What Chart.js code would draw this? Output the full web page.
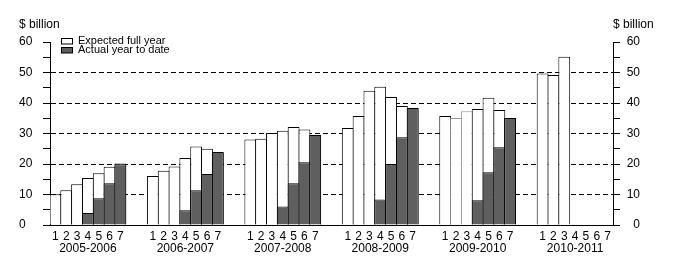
<!DOCTYPE html>
<html>
<head>
<meta charset="utf-8">
<script src="https://cdn.jsdelivr.net/npm/chart.js@4/dist/chart.umd.min.js"></script>
<style>
  html, body { margin: 0; padding: 0; background: #fff; }
  #wrap { width: 674px; height: 264px; position: relative; }
</style>
</head>
<body>
<div id="wrap"><canvas id="revenue"></canvas></div>
<script>
// chart data - one array per year, months 1..7 of reporting
var years = ['2005-2006', '2006-2007', '2007-2008', '2008-2009', '2009-2010', '2010-2011'];
var monthTicks = ['1', '2', '3', '4', '5', '6', '7'];

var expectedFullYear = [
    [10.1, 11.4, 13.4, 15.4, 17.0, 19.1, 20.2],
    [16.1, 17.8, 19.2, 22.0, 25.7, 25.0, 23.8],
    [28.0, 28.3, 30.2, 30.9, 32.1, 31.3, 29.4],
    [31.8, 35.7, 44.0, 45.3, 42.0, 39.0, 38.3],
    [35.7, 35.1, 37.3, 38.0, 41.7, 37.7, 35.0],
    [49.7, 49.2, 55.2, null, null, null, null]
];

var actualYearToDate = [
    [null, null, null, 3.9, 8.8, 13.7, 19.9],
    [null, null, null, 4.8, 11.4, 16.7, 23.9],
    [null, null, null, 6.1, 13.7, 20.6, 29.5],
    [null, null, null, 8.4, 20.0, 28.8, 38.4],
    [null, null, null, 8.1, 17.3, 25.5, 35.1],
    [null, null, null, null, null, null, null]
];

var yTicks = [0, 10, 20, 30, 40, 50, 60];

// build flat category slots: 7 bars then 2 empty slots per year
var labels = [], expData = [], actData = [], expBorder = [];
years.forEach(function (yr, g) {
    monthTicks.forEach(function (m, k) {
        labels.push(k == 3 ? [m, yr] : m);
        expData.push(expectedFullYear[g][k]);
        actData.push(actualYearToDate[g][k]);
        // 2009-2010 months 2 and 3 are outlined in grey
        expBorder.push(g == 4 && (k == 1 || k == 2) ? '#9a9a9a' : '#000');
    });
    if (g < years.length - 1) {
        labels.push(''); labels.push('');
        expData.push(null); expData.push(null);
        actData.push(null); actData.push(null);
        expBorder.push('#000'); expBorder.push('#000');
    }
});

var overlap = 1 + 1 / 10.85; // bars share one outline with their neighbour

var textFont = { family: 'Liberation Sans, Arial, sans-serif', size: 12 };

var yAxis = function (side, width) {
    return {
        type: 'linear',
        position: side,
        min: 0,
        max: 60,
        afterFit: function (scale) { scale.width = width; },
        ticks: {
            stepSize: 5,
            autoSkip: false,
            padding: 4,
            crossAlign: 'far',
            color: '#000',
            font: textFont,
            callback: function (v) { return yTicks.indexOf(v) >= 0 ? v : ''; }
        },
        grid: {
            drawOnChartArea: side == 'left',
            tickLength: 7,
            tickColor: '#000',
            lineWidth: 1,
            color: function (ctx) {
                var v = ctx.tick ? ctx.tick.value : 0;
                return (v % 10 == 0 && v > 0 && v < 60) ? '#000' : 'rgba(0,0,0,0)';
            }
        },
        border: { display: true, color: '#000', width: 1, dash: [5, 3] }
    };
};

var annotations = {
    id: 'annotations',
    afterDraw: function (chart) {
        var ctx = chart.ctx;
        ctx.save();
        ctx.font = '12px "Liberation Sans", Arial, sans-serif';
        ctx.fillStyle = '#000';
        ctx.textBaseline = 'alphabetic';
        ctx.fillText('$ billion', 19, 27.5);
        ctx.fillText('$ billion', 613, 27.5);
        // legend
        ctx.font = '11px "Liberation Sans", Arial, sans-serif';
        ctx.lineWidth = 1;
        ctx.strokeStyle = '#000';
        ctx.fillStyle = '#fff';
        ctx.fillRect(61.5, 38.5, 11, 5.5);
        ctx.strokeRect(61.5, 38.5, 11, 5.5);
        ctx.fillStyle = '#5f5f5f';
        ctx.fillRect(61.5, 47.5, 11, 5.5);
        ctx.strokeRect(61.5, 47.5, 11, 5.5);
        ctx.fillStyle = '#000';
        ctx.fillText('Expected full year', 78, 43.5);
        ctx.fillText('Actual year to date', 78, 53);
        ctx.restore();
    }
};

var revenue = document.getElementById('revenue').getContext('2d');
var myChart = new Chart(revenue, {
    type: 'bar',
    data: {
        labels: labels,
        datasets: [{
            label: 'Expected full year',
            data: expData,
            backgroundColor: '#fff',
            borderColor: expBorder,
            borderWidth: 1,
            grouped: false,
            order: 1
        }, {
            label: 'Actual year to date',
            data: actData,
            backgroundColor: '#5f5f5f',
            borderColor: '#000',
            borderWidth: 1,
            grouped: false,
            order: 0
        }]
    },
    options: {
        responsive: true,
        maintainAspectRatio: false,
        animation: false,
        datasets: { bar: { barPercentage: overlap, categoryPercentage: 1 } },
        layout: { padding: { left: 19, right: 34, top: 42, bottom: 0 } },
        plugins: {
            legend: { display: false },
            tooltip: { enabled: false }
        },
        scales: {
            x: {
                offset: true,
                afterFit: function (scale) { scale.height = 39; },
                grid: { display: false, drawTicks: false },
                border: { display: true, color: '#000', width: 1 },
                ticks: {
                    autoSkip: false,
                    maxRotation: 0,
                    minRotation: 0,
                    padding: 6,
                    color: '#000',
                    font: { family: 'Liberation Sans, Arial, sans-serif', size: 12, lineHeight: 0.96 }
                }
            },
            y: yAxis('left', 31),
            y2: yAxis('right', 27)
        }
    },
    plugins: [annotations]
});
</script>
</body>
</html>
